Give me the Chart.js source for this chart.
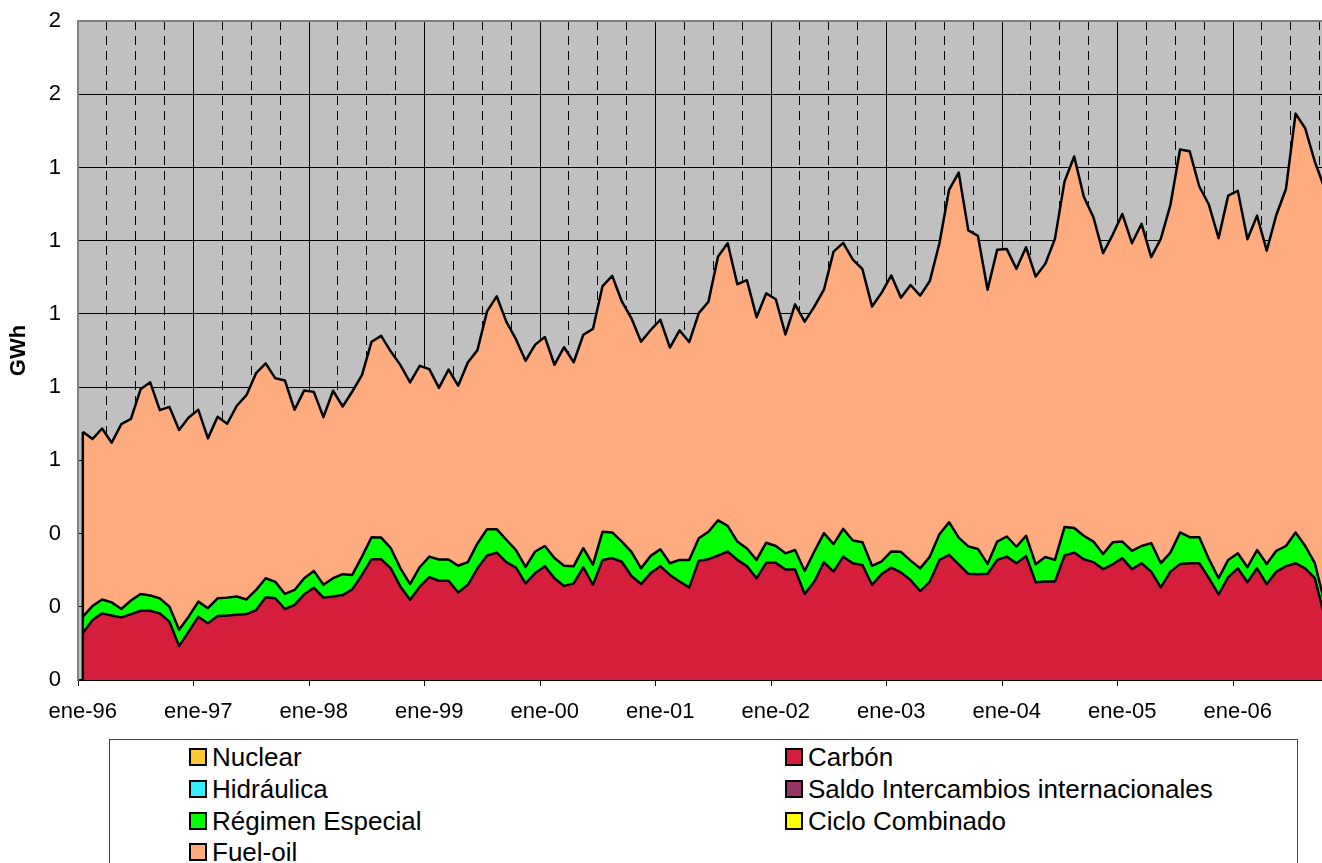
<!DOCTYPE html>
<html><head><meta charset="utf-8">
<script src="https://cdn.jsdelivr.net/npm/chart.js@4/dist/chart.umd.min.js"></script>
<style>
html,body{margin:0;padding:0;width:1322px;height:863px;overflow:hidden;background:#fff;}
#wrap{position:absolute;left:0;top:0;width:1340px;height:738px;}
#legendBox{position:absolute;left:109px;top:739px;width:1189px;height:140px;border:1.5px solid #444;box-sizing:border-box;}
.li{position:absolute;height:32px;display:flex;align-items:center;font-family:"Liberation Sans",Arial,sans-serif;font-size:26px;color:#000;white-space:nowrap;}
.sw{width:18px;height:18px;box-sizing:border-box;border:2px solid #000;margin-right:5px;flex:none;}
</style></head>
<body>
<div id="wrap"><canvas id="c" width="1340" height="738"></canvas></div>
<div id="legendBox"></div>
<div id="legendItems"></div>
<script>
const categories = [
'ene-96','feb-96','mar-96','abr-96','may-96','jun-96','jul-96','ago-96','sep-96','oct-96','nov-96','dic-96',
'ene-97','feb-97','mar-97','abr-97','may-97','jun-97','jul-97','ago-97','sep-97','oct-97','nov-97','dic-97',
'ene-98','feb-98','mar-98','abr-98','may-98','jun-98','jul-98','ago-98','sep-98','oct-98','nov-98','dic-98',
'ene-99','feb-99','mar-99','abr-99','may-99','jun-99','jul-99','ago-99','sep-99','oct-99','nov-99','dic-99',
'ene-00','feb-00','mar-00','abr-00','may-00','jun-00','jul-00','ago-00','sep-00','oct-00','nov-00','dic-00',
'ene-01','feb-01','mar-01','abr-01','may-01','jun-01','jul-01','ago-01','sep-01','oct-01','nov-01','dic-01',
'ene-02','feb-02','mar-02','abr-02','may-02','jun-02','jul-02','ago-02','sep-02','oct-02','nov-02','dic-02',
'ene-03','feb-03','mar-03','abr-03','may-03','jun-03','jul-03','ago-03','sep-03','oct-03','nov-03','dic-03',
'ene-04','feb-04','mar-04','abr-04','may-04','jun-04','jul-04','ago-04','sep-04','oct-04','nov-04','dic-04',
'ene-05','feb-05','mar-05','abr-05','may-05','jun-05','jul-05','ago-05','sep-05','oct-05','nov-05','dic-05',
'ene-06','feb-06','mar-06','abr-06','may-06','jun-06','jul-06','ago-06','sep-06','oct-06'
];

const carbon = [
0.128,0.164,0.182,0.176,0.171,0.180,0.189,0.189,0.182,0.159,0.093,0.132,
0.173,0.155,0.175,0.176,0.178,0.180,0.191,0.226,0.223,0.194,0.205,0.234,
0.252,0.225,0.228,0.232,0.248,0.287,0.330,0.330,0.305,0.255,0.219,0.255,
0.281,0.271,0.271,0.239,0.260,0.305,0.340,0.348,0.322,0.307,0.264,0.292,
0.311,0.278,0.257,0.264,0.308,0.260,0.328,0.333,0.323,0.284,0.262,0.292,
0.311,0.287,0.269,0.253,0.326,0.330,0.340,0.351,0.328,0.311,0.278,0.320,
0.320,0.302,0.302,0.235,0.269,0.322,0.296,0.337,0.319,0.314,0.260,0.290,
0.307,0.294,0.273,0.243,0.269,0.328,0.342,0.316,0.290,0.289,0.290,0.328,
0.337,0.319,0.339,0.267,0.269,0.269,0.340,0.348,0.330,0.322,0.303,0.316,
0.333,0.303,0.319,0.296,0.253,0.296,0.317,0.319,0.319,0.278,0.234,0.281,
0.305,0.267,0.305,0.262,0.296,0.311,0.319,0.305,0.278,0.175
];

const regimenEspecial = [
0.045,0.038,0.038,0.036,0.023,0.037,0.046,0.042,0.041,0.041,0.044,0.041,
0.041,0.041,0.048,0.049,0.050,0.040,0.055,0.052,0.045,0.041,0.041,0.044,
0.046,0.035,0.050,0.057,0.039,0.050,0.060,0.059,0.055,0.050,0.043,0.053,
0.056,0.058,0.058,0.073,0.062,0.068,0.072,0.064,0.061,0.048,0.045,0.059,
0.055,0.055,0.055,0.047,0.052,0.055,0.077,0.070,0.055,0.066,0.043,0.047,
0.046,0.032,0.059,0.075,0.061,0.075,0.096,0.070,0.050,0.048,0.050,0.055,
0.046,0.044,0.053,0.063,0.082,0.079,0.075,0.076,0.062,0.062,0.052,0.034,
0.044,0.056,0.053,0.062,0.068,0.070,0.089,0.073,0.075,0.069,0.027,0.050,
0.055,0.045,0.055,0.049,0.067,0.059,0.078,0.067,0.064,0.056,0.041,0.060,
0.045,0.050,0.047,0.078,0.066,0.052,0.086,0.071,0.071,0.052,0.044,0.047,
0.041,0.041,0.050,0.055,0.057,0.055,0.084,0.061,0.041,0.038
];

const fuelOil = [
0.505,0.456,0.467,0.436,0.505,0.496,0.559,0.582,0.514,0.546,0.546,0.544,
0.524,0.464,0.496,0.475,0.521,0.558,0.592,0.587,0.556,0.583,0.492,0.513,
0.489,0.458,0.512,0.458,0.501,0.496,0.534,0.551,0.537,0.555,0.551,0.550,
0.512,0.469,0.519,0.492,0.545,0.528,0.595,0.636,0.596,0.576,0.563,0.565,
0.571,0.528,0.597,0.557,0.583,0.644,0.671,0.701,0.656,0.638,0.619,0.617,
0.627,0.589,0.627,0.595,0.615,0.628,0.721,0.772,0.703,0.733,0.663,0.681,
0.674,0.598,0.671,0.681,0.669,0.665,0.799,0.781,0.767,0.746,0.708,0.734,
0.754,0.694,0.753,0.745,0.753,0.795,0.908,0.997,0.863,0.855,0.749,0.797,
0.785,0.759,0.788,0.786,0.801,0.877,0.944,1.015,0.926,0.886,0.822,0.840,
0.895,0.840,0.880,0.781,0.886,0.950,1.046,1.054,0.958,0.968,0.929,0.995,
0.990,0.896,0.913,0.856,0.917,0.975,1.144,1.141,1.097,1.131
];

// Series shown only in the legend (no visible area in the chart)
const nuclear = [];
const hidraulica = [];
const saldoIntercambios = [];
const cicloCombinado = [];

const yTicks = { min: 0, max: 1.8, step: 0.2 };

const FONT = '"Liberation Sans", Arial, sans-serif';

function ds(label, data, color, fill) {
  return {
    label: label, data: data, backgroundColor: color, borderColor: '#000',
    borderWidth: 2.5, borderJoinStyle: 'round', pointRadius: 0, pointHoverRadius: 0,
    tension: 0, fill: fill
  };
}

const datasets = [
  ds('Nuclear', nuclear, '#FFC933', 'origin'),
  ds('Carbón', carbon, '#D41E3C', 'origin'),
  ds('Hidráulica', hidraulica, '#33F0FF', false),
  ds('Saldo Intercambios internacionales', saldoIntercambios, '#993366', false),
  ds('Régimen Especial', regimenEspecial, '#00FF00', 1),
  ds('Ciclo Combinado', cicloCombinado, '#FFFF00', false),
  ds('Fuel-oil', fuelOil, '#FFAB80', 4)
];

const plotBg = {
  id: 'plotBg',
  beforeDraw(chart) {
    const a = chart.chartArea, c = chart.ctx;
    c.save(); c.fillStyle = '#C0C0C0';
    c.fillRect(a.left, a.top, a.right - a.left, a.bottom - a.top);
    c.restore();
  }
};

const leftEdge = {
  id: 'leftEdge',
  afterDatasetsDraw(chart) {
    const meta = chart.getDatasetMeta(6);
    if (!meta.data.length) return;
    const p = meta.data[0];
    const y0 = chart.scales.y.getPixelForValue(0);
    const c = chart.ctx;
    c.save(); c.strokeStyle = '#000'; c.lineWidth = 2.5;
    c.beginPath(); c.moveTo(p.x, p.y); c.lineTo(p.x, y0); c.stroke();
    c.restore();
  }
};

const chart = new Chart(document.getElementById('c'), {
  type: 'line',
  data: { labels: categories, datasets: datasets },
  plugins: [plotBg, leftEdge],
  options: {
    responsive: false,
    animation: false,
    layout: { padding: { left: 0, top: 21, right: 10.75, bottom: 0 } },
    plugins: { legend: { display: false }, tooltip: { enabled: false } },
    scales: {
      x: {
        type: 'category',
        offset: true,
        afterFit(s) { s.height = 58; s.paddingTop = 0; s.paddingBottom = 0; },
        grid: {
          offset: true,
          drawOnChartArea: true,
          color: c => (c.index % 3 === 0 && c.index !== 0) ? '#000' : 'rgba(0,0,0,0)',
          lineWidth: 1,
          tickLength: 6,
          tickColor: c => c.index % 12 === 0 ? '#000' : 'rgba(0,0,0,0)',
          tickWidth: 1,
          tickBorderDash: []
        },
        border: {
          display: true, color: '#000', width: 2,
          dash: c => (c.type === 'tick' && c.index % 12 !== 0) ? [9, 6] : []
        },
        ticks: {
          autoSkip: false, maxRotation: 0, minRotation: 0, padding: 13,
          color: '#000', font: { family: FONT, size: 22 },
          callback: (v, i) => i % 12 === 0 ? categories[i] : ''
        }
      },
      y: {
        stacked: true,
        min: yTicks.min, max: yTicks.max,
        afterFit(s) { s.width = 78; s.paddingTop = 0; s.paddingBottom = 0; },
        grid: {
          color: c => c.index === 9 ? '#808080' : '#000',
          lineWidth: c => c.index === 9 ? 2 : 1,
          drawTicks: false
        },
        border: { display: true, color: '#808080', width: 2 },
        ticks: {
          stepSize: yTicks.step, padding: 17, color: '#000',
          font: { family: FONT, size: 22 },
          callback: v => String(Math.round(v))
        },
        title: {
          display: true, text: 'GWh', color: '#000',
          font: { family: FONT, size: 22, weight: 'bold' },
          padding: { top: 6, bottom: 0 }
        }
      }
    }
  }
});

// HTML legend built from the chart's datasets (two columns, row-major)
const items = document.getElementById('legendItems');
const rowCenters = [757, 789, 821, 852];
const colLefts = [189, 785];
chart.data.datasets.forEach((d, i) => {
  const el = document.createElement('div');
  el.className = 'li';
  el.style.left = colLefts[i % 2] + 'px';
  el.style.top = (rowCenters[Math.floor(i / 2)] - 16) + 'px';
  const sw = document.createElement('span');
  sw.className = 'sw';
  sw.style.background = d.backgroundColor;
  const tx = document.createElement('span');
  tx.textContent = d.label;
  el.appendChild(sw); el.appendChild(tx);
  items.appendChild(el);
});
</script>
</body></html>
